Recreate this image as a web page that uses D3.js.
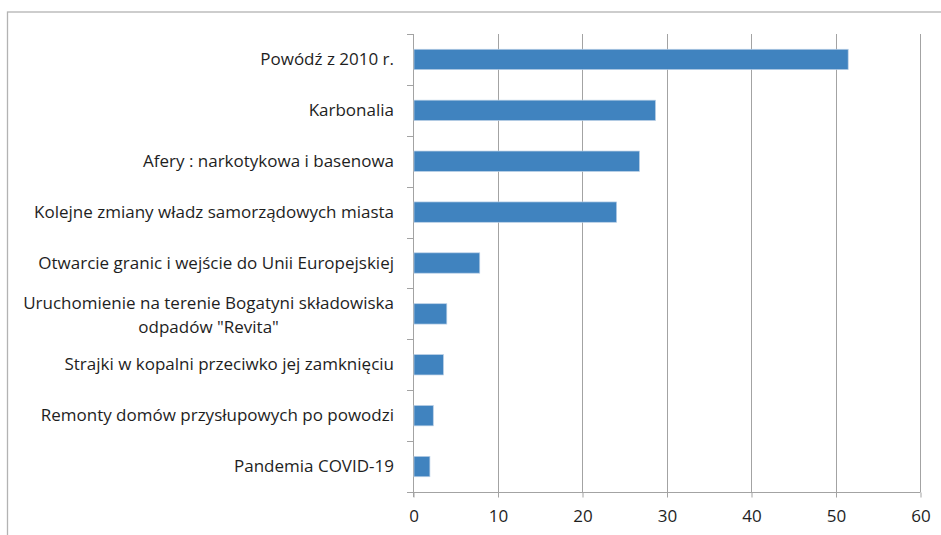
<!DOCTYPE html>
<html>
<head>
<meta charset="utf-8">
<script src="https://cdn.jsdelivr.net/npm/d3@7"></script>
<style>
  body { margin: 0; background: #fff; }
  text { font-family: "Open Sans", Lato, sans-serif; fill: #1e1e1e; }
</style>
</head>
<body>
<div id="wykres"></div>
<script>
// Dane
const kategorie = [
  "Powódź z 2010 r.",
  "Karbonalia",
  "Afery : narkotykowa i basenowa",
  "Kolejne zmiany władz samorządowych miasta ",
  "Otwarcie granic i wejście do Unii Europejskiej",
  "Uruchomienie na terenie Bogatyni składowiska odpadów \"Revita\"",
  "Strajki w kopalni przeciwko jej zamknięciu",
  "Remonty domów przysłupowych po powodzi",
  "Pandemia COVID-19"
];
const wartosci = [51.5, 28.7, 26.8, 24.1, 7.9, 4.0, 3.6, 2.4, 2.0];
const podzialkiX = [0, 10, 20, 30, 40, 50, 60];

const szerokosc = 941;
const wysokosc = 535;
const margines = { gora: 34, prawo: 21, dol: 43, lewo: 413 };
const rozmiarFontu = "17px";

const svg = d3.select("#wykres")
  .append("svg")
  .attr("width", szerokosc)
  .attr("height", wysokosc);

// Ramka wykresu
svg.append("rect")
  .attr("x", 7.5)
  .attr("y", 12)
  .attr("width", szerokosc)
  .attr("height", wysokosc)
  .attr("fill", "none")
  .attr("stroke", "#b3b3b3")
  .attr("stroke-width", 1.3);

const x = d3.scaleLinear()
  .domain([0, 60])
  .range([margines.lewo, szerokosc - margines.prawo]);

const y = d3.scaleBand()
  .domain(kategorie)
  .range([margines.gora, wysokosc - margines.dol])
  .paddingInner(0.6)
  .paddingOuter(0.3);

const dolOsi = wysokosc - margines.dol;
const kolorOsi = "#a3a3a3";

// Linie siatki
svg.append("g")
  .selectAll("line")
  .data(podzialkiX.slice(1))
  .enter()
  .append("line")
  .attr("x1", d => Math.round(x(d)) + 0.5)
  .attr("x2", d => Math.round(x(d)) + 0.5)
  .attr("y1", margines.gora)
  .attr("y2", dolOsi)
  .attr("stroke", kolorOsi);

// Os X
const osX = svg.append("g")
  .attr("transform", `translate(0.5,${Math.round(dolOsi) + 0.5})`)
  .call(d3.axisBottom(x).tickValues(podzialkiX).tickSize(5).tickSizeOuter(0).tickPadding(12));
osX.select(".domain").remove();
osX.selectAll(".tick line").attr("stroke", kolorOsi);
osX.selectAll(".tick text")
  .style("font-size", rozmiarFontu)
  .attr("fill", "#1e1e1e")
  .attr("font-family", "'Open Sans', sans-serif");

svg.append("line")
  .attr("x1", margines.lewo - 6)
  .attr("x2", x(60) + 0.5)
  .attr("y1", Math.round(dolOsi) + 0.5)
  .attr("y2", Math.round(dolOsi) + 0.5)
  .attr("stroke", kolorOsi);

// Os Y
svg.append("line")
  .attr("x1", Math.round(x(0)) + 0.5)
  .attr("x2", Math.round(x(0)) + 0.5)
  .attr("y1", margines.gora)
  .attr("y2", dolOsi + 5)
  .attr("stroke", kolorOsi);

const granice = d3.range(kategorie.length + 1);
svg.append("g")
  .selectAll("line")
  .data(granice)
  .enter()
  .append("line")
  .attr("x1", margines.lewo - 6)
  .attr("x2", Math.round(x(0)) + 0.5)
  .attr("y1", i => Math.round(margines.gora + i * y.step()) + 0.5)
  .attr("y2", i => Math.round(margines.gora + i * y.step()) + 0.5)
  .attr("stroke", kolorOsi);

// Slupki
svg.append("g")
  .selectAll("rect")
  .data(kategorie)
  .enter()
  .append("rect")
  .attr("x", x(0) + 1)
  .attr("y", d => y(d))
  .attr("width", (d, i) => x(wartosci[i]) - x(0) - 1)
  .attr("height", y.bandwidth())
  .attr("fill", "#4083bf")
  .attr("stroke", "#b9cfe6")
  .attr("stroke-width", 0.7);

// Etykiety kategorii (z zawijaniem dlugich)
const maxSzer = 392;
const etykiety = svg.append("g")
  .selectAll("text")
  .data(kategorie)
  .enter()
  .append("text")
  .attr("text-anchor", "end")
  .style("font-size", rozmiarFontu);

etykiety.each(function(d) {
  const el = d3.select(this);
  const slowa = d.trim().split(" ");
  const linie = [];
  let biezaca = [];
  const tymcz = el.append("tspan");
  slowa.forEach(s => {
    const proba = biezaca.concat(s).join(" ");
    tymcz.text(proba);
    if (tymcz.node().getComputedTextLength() > maxSzer && biezaca.length) {
      linie.push(biezaca.join(" "));
      biezaca = [s];
    } else {
      biezaca.push(s);
    }
  });
  linie.push(biezaca.join(" "));
  tymcz.remove();

  const srodek = y(d) + y.bandwidth() / 2;
  const xPrawo = margines.lewo - 19;
  if (linie.length === 1) {
    el.append("tspan").attr("x", xPrawo).attr("y", srodek + 5.5).text(linie[0]);
  } else {
    // dluga etykieta: linie wysrodkowane wzgledem pierwszej
    const pierwsza = el.append("tspan").attr("x", xPrawo).attr("y", srodek - 4.5).text(linie[0]);
    const szer = pierwsza.node().getComputedTextLength();
    linie.slice(1).forEach((l, k) => {
      el.append("tspan")
        .attr("x", xPrawo - szer / 2)
        .attr("y", srodek - 4.5 + (k + 1) * 24)
        .attr("text-anchor", "middle")
        .text(l);
    });
  }
});
</script>
</body>
</html>
